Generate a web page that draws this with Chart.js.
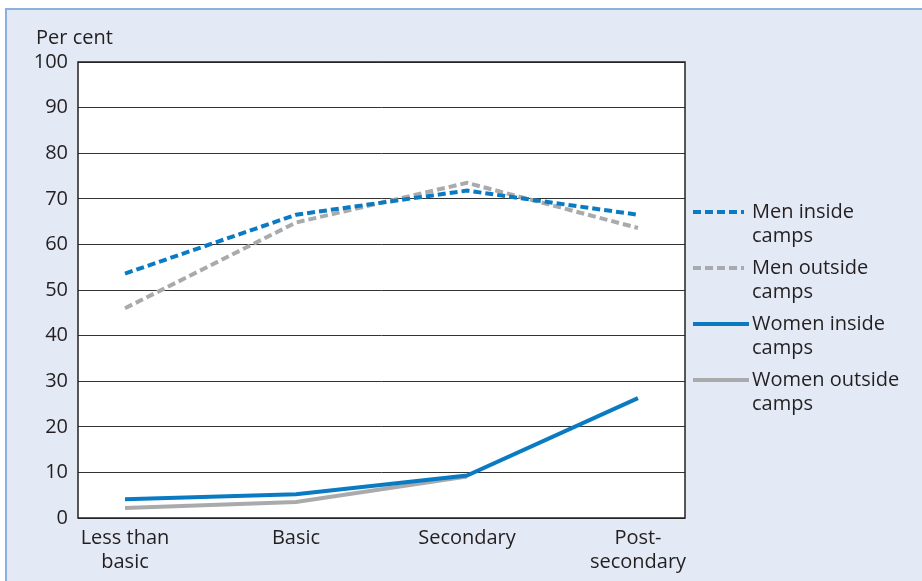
<!DOCTYPE html>
<html>
<head>
<meta charset="utf-8">
<script src="https://cdn.jsdelivr.net/npm/chart.js@4"></script>
<style>
  html, body { margin: 0; padding: 0; background: #fff; }
  #frame {
    position: absolute; left: 5px; top: 8px; width: 940px; height: 600px;
    background: #e4eaf5; border: 2px solid #8cb0de;
  }
  #wrap { position: absolute; left: 0; top: 0; width: 922px; height: 581px; }
</style>
</head>
<body>
<div id="frame"></div>
<div id="wrap"><canvas id="educationChart" width="922" height="581"></canvas></div>
<script>
// Share in employment by education level (per cent)
const categories = ['Less than basic', 'Basic', 'Secondary', 'Post-secondary'];
const tickLabels = [['Less than', 'basic'], ['Basic'], ['Secondary'], ['Post-', 'secondary']];
const yTicks = [0, 10, 20, 30, 40, 50, 60, 70, 80, 90, 100];

const menInside = [53.6, 66.5, 71.8, 66.5];
const menOutside = [46.0, 64.8, 73.5, 63.6];
const womenInside = [4.1, 5.2, 9.3, 26.3];
const womenOutside = [2.2, 3.5, 9.1, null];

const seriesNames = [['Men inside', 'camps'], ['Men outside', 'camps'], ['Women inside', 'camps'], ['Women outside', 'camps']];

const BLUE = '#0a7bc2';
const GREY = '#a9aaac';
const FONT = '"Open Sans", sans-serif';
const FONT_SIZE = 20;

function toPoints(values) {
    return values.map((v, i) => ({ x: i, y: v }));
}

// white plot box, frame, legend and axis title
const decorPlugin = {
    id: 'decor',
    beforeDraw(chart) {
        const a = chart.chartArea;
        chart.ctx.save();
        chart.ctx.fillStyle = '#fff';
        chart.ctx.fillRect(a.left, a.top, a.right - a.left, a.bottom - a.top);
        chart.ctx.restore();
    },
    afterDraw(chart) {
        const ctx = chart.ctx;
        const a = chart.chartArea;
        ctx.save();
        ctx.strokeStyle = '#222';
        ctx.lineWidth = 1.5;
        ctx.strokeRect(a.left, a.top, a.right - a.left, a.bottom - a.top);

        ctx.fillStyle = '#231f20';
        ctx.font = FONT_SIZE + 'px ' + FONT;
        ctx.textBaseline = 'middle';
        ctx.textAlign = 'left';
        ctx.fillText('Per cent', 36, 38);

        chart.data.datasets.forEach((ds, i) => {
            const y = 212 + i * 56;
            ctx.beginPath();
            ctx.strokeStyle = ds.borderColor;
            ctx.lineWidth = 4;
            ctx.setLineDash(ds.borderDash || []);
            ctx.moveTo(693, y);
            ctx.lineTo(ds.borderDash ? 744 : 749, y);
            ctx.stroke();
            ctx.setLineDash([]);
            seriesNames[i].forEach((line, j) => {
                ctx.fillText(line, 752, y + j * 24);
            });
        });
        ctx.restore();
    }
};

const ctx = document.getElementById('educationChart').getContext('2d');
new Chart(ctx, {
    type: 'line',
    data: {
        datasets: [
            {
                label: 'Men inside camps',
                data: toPoints(menInside),
                borderColor: BLUE,
                borderDash: [8, 4],
                order: 2
            },
            {
                label: 'Men outside camps',
                data: toPoints(menOutside),
                borderColor: GREY,
                borderDash: [8, 4],
                order: 3
            },
            {
                label: 'Women inside camps',
                data: toPoints(womenInside),
                borderColor: BLUE,
                order: 1
            },
            {
                label: 'Women outside camps',
                data: toPoints(womenOutside),
                borderColor: GREY,
                order: 4
            }
        ]
    },
    options: {
        responsive: false,
        animation: false,
        layout: { padding: { top: 62, right: 237, left: 0, bottom: 0 } },
        elements: {
            line: { borderWidth: 4, tension: 0, fill: false, borderCapStyle: 'butt' },
            point: { radius: 0 }
        },
        plugins: {
            legend: { display: false },
            tooltip: { enabled: false }
        },
        scales: {
            x: {
                type: 'linear',
                min: -0.275,
                max: 3.275,
                afterBuildTicks: (scale) => {
                    scale.ticks = categories.map((c, i) => ({ value: i }));
                },
                afterFit: (scale) => { scale.height = 63; },
                grid: { display: false, drawTicks: false },
                border: { display: false },
                ticks: {
                    padding: 8,
                    color: '#231f20',
                    font: { family: FONT, size: FONT_SIZE, lineHeight: 1.2 },
                    maxRotation: 0,
                    autoSkip: false,
                    callback: (value) => tickLabels[value]
                }
            },
            y: {
                min: 0,
                max: 100,
                afterBuildTicks: (scale) => {
                    scale.ticks = yTicks.map(v => ({ value: v }));
                },
                afterFit: (scale) => { scale.width = 78; },
                grid: { color: '#333', lineWidth: 1, drawTicks: false },
                border: { display: false },
                ticks: {
                    padding: 10,
                    color: '#231f20',
                    font: { family: FONT, size: FONT_SIZE }
                }
            }
        }
    },
    plugins: [decorPlugin]
});
</script>
</body>
</html>
